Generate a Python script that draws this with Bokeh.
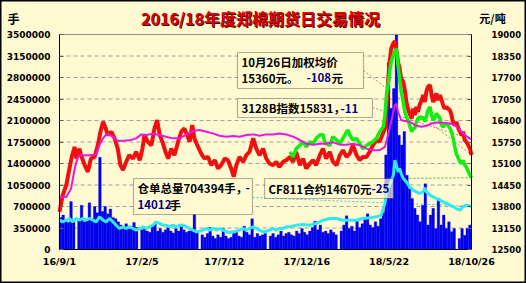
from datetime import date
from bokeh.plotting import figure
from bokeh.models import (Range1d, LinearAxis, FixedTicker, PrintfTickFormatter,
                          Label, BoxAnnotation, ColumnDataSource)
from bokeh.embed import file_html
from bokeh.resources import INLINE

# ---------------- data ----------------
START = date(2016, 9, 1)
x_tick_dates = [date(2016, 9, 1), date(2017, 2, 5), date(2017, 7, 12),
                date(2017, 12, 16), date(2018, 5, 22), date(2018, 10, 26)]
x_tick_labels = ["16/9/1", "17/2/5", "17/7/12", "17/12/16", "18/5/22", "18/10/26"]
vol_ticks = [0, 350000, 700000, 1050000, 1400000, 1750000, 2100000,
             2450000, 2800000, 3150000, 3500000]
price_ticks = [12500, 13150, 13800, 14450, 15100, 15750, 16400,
               17050, 17700, 18350, 19000]

# daily volume sampled every 5 calendar days (万手), holidays = 0
BAR_STEP = 5
vol_wan = [
    52, 56, 47, 44, 78, 46, 0,
    50, 72, 45, 48, 76, 50, 70,
    60, 150, 62, 70, 58, 66, 52, 50, 45,
    40, 36, 42, 34, 38, 44, 36,
    0,
    32, 36, 30, 28, 38, 42, 30, 34, 28, 32, 36, 30, 27, 34, 30, 38, 32, 28, 30, 33, 58, 30,
    0,
    24, 20, 26, 36, 22, 18, 24, 20, 34, 22, 18, 20, 26, 30, 22, 20, 38, 28, 24, 50, 20, 26, 22, 24, 26,
    0,
    22, 26, 20, 24, 30, 22, 26, 28, 24, 22, 30, 26, 34, 28, 24, 30, 36, 46, 32, 40, 28, 30, 26, 32, 28, 24,
    0,
    30, 40, 55, 34, 38, 30, 48, 36, 42, 52, 58, 40, 36, 45, 38, 50,
    60, 154, 305, 230, 262, 349, 186, 170, 192, 121, 99, 83, 67, 56, 45, 72, 107, 40, 56, 67,
    34, 83, 40, 56, 34, 45, 29, 34, 0, 18, 34, 23, 34, 40,
]

# weighted average price (day offset, 元/吨)
red = [(0,13640),(6,14140),(13,14450),(19,14950),(24,15350),(29,15600),(32,15250),(38,15550),(41,15350),(48,15050),(54,14850),(60,15250),(67,15300),(73,15650),(78,16060),(83,16360),(88,16160),(92,15960),(99,16060),(105,15860),(111,15550),(116,15050),(121,14900),(127,15150),(133,15350),(140,15250),(146,15450),(153,15200),(158,15550),(162,15960),(168,15760),(175,15650),(181,16160),(186,16410),(191,15960),(196,15760),(202,15450),(207,15250),(213,15550),(219,15350),(226,15760),(232,16060),(238,16160),(243,15960),(248,15760),(253,16260),(257,15860),(264,15600),(270,15400),(276,15250),(283,15300),(289,15050),(296,15200),(302,14950),(308,15050),(315,15250),(321,15200),(327,14950),(332,14700),(337,15050),(343,15300),(350,15150),(356,15350),(362,15450),(369,15860),(375,15550),(381,15350),(388,15550),(394,15250),(400,15100),(407,15050),(413,15150),(419,15000),(426,15150),(432,15200),(439,15300),(445,15150),(451,15450),(458,15050),(464,15250),(470,14950),(477,15100),(483,15200),(489,15050),(496,15350),(502,15550),(508,15250),(515,15450),(521,15150),(528,15050),(534,15350),(540,15500),(547,15300),(553,15400),(559,15650),(566,15350),(572,15200),(578,15300),(585,15300),(591,15450),(597,15650),(604,15810),(610,15760),(615,15960),(620,16160),(623,16760),(626,17570),(629,18170),(632,18580),(636,18730),(639,18800),(642,18480),(645,18170),(648,17970),(651,17670),(655,17570),(658,17320),(661,16960),(664,16760),(667,16610),(671,16460),(674,16760),(677,16560),(680,16810),(683,16660),(686,16860),(690,17020),(693,17170),(696,16960),(699,17270),(702,17420),(706,17470),(709,17170),(712,16960),(715,17070),(718,17220),(721,17020),(725,17170),(728,17020),(731,16860),(734,16760),(737,16810),(740,16760),(744,16710),(747,16560),(750,16310),(753,16260),(756,16360),(760,16160),(763,16060),(766,15960),(769,16060),(772,15810),(775,15760),(779,15650),(782,15550),(785,15360)]

# 3128B index
magenta = [(0,14090),(13,14090),(22,14340),(29,14950),(35,15300),(41,15350),(57,15350),(70,15370),(76,15650),(83,15860),(89,15980),(95,15960),(102,15910),(108,15810),(114,15780),(121,15790),(133,15800),(146,15860),(156,15980),(165,15960),(178,16000),(191,15960),(203,15910),(216,15860),(229,15860),(242,15980),(254,16080),(267,16110),(280,16060),(292,16010),(305,15940),(318,15910),(331,15930),(343,15910),(356,15960),(369,15980),(381,15940),(394,15980),(407,15980),(419,16010),(432,15980),(445,15910),(458,15810),(470,15700),(483,15670),(496,15700),(508,15700),(521,15740),(534,15670),(547,15670),(559,15700),(572,15650),(585,15550),(597,15500),(610,15500),(620,15600),(626,15960),(632,16360),(639,16860),(642,16910),(645,16660),(651,16410),(661,16380),(671,16330),(680,16240),(690,16210),(699,16240),(709,16310),(718,16340),(731,16330),(744,16310),(753,16260),(763,16110),(772,15960),(785,15831)]

# CF811 contract
green = [(439,15450),(445,15300),(451,15550),(458,15650),(464,15760),(470,15600),(477,15760),(483,15700),(489,15860),(496,15960),(502,15980),(505,15760),(508,15700),(515,15650),(521,15910),(528,15810),(534,15700),(540,15860),(547,16060),(550,16110),(553,15960),(559,15810),(566,15860),(572,15700),(578,15550),(585,15650),(591,15700),(597,15760),(604,15860),(610,16060),(617,16210),(620,16560),(623,17170),(626,17470),(629,17870),(632,18170),(636,18380),(639,18480),(642,18580),(645,18070),(648,17670),(651,17270),(655,16960),(658,16660),(661,16510),(664,16410),(667,16260),(671,16060),(674,16160),(677,16160),(680,16360),(683,16460),(686,16510),(690,16460),(693,16510),(696,16360),(699,16510),(702,16710),(706,16810),(709,16560),(712,16410),(715,16460),(718,16610),(721,16560),(725,16460),(728,16260),(731,16210),(734,16260),(737,16310),(740,16260),(744,16160),(747,16060),(750,15860),(753,15600),(756,15400),(760,15250),(763,15150),(766,15100),(769,15200),(772,15050),(775,15000),(779,14850),(782,14750),(785,14670)]

# warehouse receipts total (万手)
cyan = [(0,47.7),(6,45.0),(13,47.7),(19,50.5),(25,45.0),(32,50.5),(38,47.7),(44,50.5),(51,47.7),(57,50.5),(64,47.7),(70,45.0),(76,53.2),(83,47.7),(89,45.0),(95,50.5),(102,45.0),(108,39.6),(114,34.2),(121,36.9),(127,34.2),(133,36.9),(140,34.2),(146,31.5),(153,34.2),(159,36.9),(165,34.2),(172,36.9),(178,39.6),(184,45.0),(191,42.3),(197,39.6),(203,39.6),(210,36.9),(216,39.6),(222,36.9),(229,39.6),(235,39.6),(242,36.9),(248,34.2),(254,31.5),(261,28.8),(267,29.8),(273,31.5),(280,34.2),(286,31.5),(292,34.2),(299,31.5),(305,34.2),(311,31.5),(318,28.8),(324,27.7),(331,28.8),(337,29.8),(343,31.5),(350,34.2),(356,31.5),(362,34.2),(369,36.9),(375,34.2),(381,31.5),(388,28.8),(394,29.8),(400,31.5),(407,34.2),(413,31.5),(419,34.2),(426,34.2),(432,36.9),(439,36.9),(451,39.6),(464,40.7),(477,39.6),(489,42.3),(502,47.7),(515,50.5),(528,50.5),(540,47.7),(553,47.7),(566,47.7),(578,50.5),(591,51.5),(604,53.2),(613,55.9),(620,74.9),(623,93.9),(629,104.7),(636,121.0),(639,145.4),(642,137.3),(645,126.4),(648,131.9),(651,123.7),(655,115.6),(661,110.1),(667,102.0),(674,96.6),(680,93.9),(686,91.2),(693,93.9),(696,100.4),(699,93.9),(706,88.4),(712,85.7),(718,83.0),(725,80.3),(731,77.6),(737,74.9),(744,72.2),(750,69.5),(756,66.7),(763,64.0),(769,69.5),(775,72.2),(785,70.4394)]

title_text = "2016/18年度郑棉期货日交易情况"

# ---------------- layout helpers (pixel -> data) ----------------
W, H = 526, 283
FL, FR, FT, FB = 59, 471, 34, 249          # plot area inside the canvas
X_END = (x_tick_dates[-1] - START).days
V_MAX, P_MIN, P_MAX = vol_ticks[-1], price_ticks[0], price_ticks[-1]

def dx(px):
    return (px - FL) * X_END / (FR - FL)

def dy(py):
    return (FB - py) * V_MAX / (FB - FT)

def dp(py):
    return P_MIN + (FB - py) * (P_MAX - P_MIN) / (FB - FT)

BG = "#FFFAD2"
# the frame covers the whole canvas; axes sit at fixed locations around the plot area
p = figure(width=W, height=H, x_range=Range1d(dx(0), dx(W)), y_range=Range1d(dy(H), dy(0)),
           output_backend="svg", toolbar_location=None,
           min_border_left=0, min_border_right=0, min_border_top=0, min_border_bottom=0,
           background_fill_color=BG, border_fill_color=BG)
p.extra_y_ranges = {"price": Range1d(dp(H), dp(0))}
p.outline_line_color = "black"
p.outline_line_width = 2
p.xgrid.visible = False
p.ygrid.visible = False

TICK_FONT = "DejaVu Sans"
la = p.yaxis[0]
la.ticker = FixedTicker(ticks=vol_ticks)
la.formatter = PrintfTickFormatter(format="%d")
la.fixed_location = 0
la.bounds = (0, V_MAX)
ra = LinearAxis(y_range_name="price", ticker=FixedTicker(ticks=price_ticks),
                formatter=PrintfTickFormatter(format="%d"),
                fixed_location=X_END, bounds=(P_MIN, P_MAX))
p.add_layout(ra, "right")
for ax, fs, so in ((la, "9px", 9), (ra, "8.5px", 20)):
    ax.major_label_text_font = TICK_FONT
    ax.major_label_text_font_style = "bold"
    ax.major_label_text_font_size = fs
    ax.major_label_text_color = "black"
    ax.major_label_standoff = so
    ax.major_tick_in = 4
    ax.major_tick_out = 0
    ax.minor_tick_line_color = None
    ax.axis_line_color = "black"
    ax.major_tick_line_color = "#606060"

xa = p.xaxis[0]
tick_days = [(d - START).days for d in x_tick_dates]
xa.ticker = FixedTicker(ticks=tick_days)
xa.major_label_overrides = {t: s for t, s in zip(tick_days, x_tick_labels)}
xa.fixed_location = 0
xa.bounds = (0, X_END)
xa.major_label_text_font = TICK_FONT
xa.major_label_text_font_style = "bold"
xa.major_label_text_font_size = "9.5px"
xa.major_label_text_color = "black"
xa.major_label_standoff = 6
xa.major_tick_in = 0
xa.major_tick_out = 0
xa.minor_tick_line_color = None
xa.axis_line_color = "black"

# dashed horizontal grid at the left-axis ticks, grey top edge of the plot area
grid_y = vol_ticks[1:-1]
p.segment(x0=[0] * len(grid_y), y0=grid_y, x1=[X_END] * len(grid_y), y1=grid_y,
          line_color="#A0A0A0", line_dash="4 3", line_width=1)
p.segment(x0=[0], y0=[V_MAX], x1=[X_END], y1=[V_MAX], line_color="#909090", line_width=1)

# ---------------- leader lines (under everything) ----------------
red_d, red_p = zip(*red)
mag_d, mag_p = zip(*magenta)
grn_d, grn_p = zip(*green)
cy_d, cy_v = zip(*cyan)
cy_v = [v * 10000 for v in cy_v]

p.segment(x0=[dx(363), dx(372)], y0=[dp(70), dp(107)], x1=[red_d[-1], mag_d[-1]],
          y1=[red_p[-1], mag_p[-1]], y_range_name="price",
          line_color="#C88080", line_dash="2 2", line_width=1)
p.segment(x0=[dx(393)], y0=[dp(178)], x1=[grn_d[-1]], y1=[grn_p[-1]], y_range_name="price",
          line_color="#30C030", line_dash="2 2", line_width=1)
p.segment(x0=[dx(252)], y0=[dy(197)], x1=[cy_d[-1]], y1=[cy_v[-1]],
          line_color="#40C8D0", line_dash="2 2", line_width=1)

# ---------------- bars ----------------
bar_x = [BAR_STEP * i + 2 for i in range(len(vol_wan))]
bar_v = [min(v * 10000, V_MAX) for v in vol_wan]
src = ColumnDataSource(dict(x=bar_x, v=bar_v))
p.vbar(x="x", top="v", bottom=0, width=BAR_STEP, source=src,
       fill_color="#0000EE", line_color="#0000EE", line_width=0.3)

# ---------------- lines ----------------
p.line(list(cy_d), cy_v, line_color="#30E8F0", line_width=3)
p.line(list(red_d), list(red_p), y_range_name="price", line_color="#F01010", line_width=4)
p.line(list(grn_d), list(grn_p), y_range_name="price", line_color="#10F010", line_width=3.5)
p.line(list(mag_d), list(mag_p), y_range_name="price", line_color="#E818E0", line_width=2)

# ---------------- annotation boxes ----------------
def box(l, t, r, b, alpha=1.0):
    p.add_layout(BoxAnnotation(left=dx(l), right=dx(r), top=dy(t), bottom=dy(b),
                               fill_color=BG, fill_alpha=alpha,
                               line_color="black", line_width=1.2))

CJK = "Noto Sans CJK SC"

def txt(x, y, s, color="black", size="11.5px", align="left"):
    p.add_layout(Label(x=dx(x), y=dy(y), text=s, text_font=CJK,
                       text_font_size=size, text_font_style="bold",
                       text_color=color, text_align=align, text_baseline="middle"))

NAVY = "#000080"
box(237, 52, 363, 88)
txt(241, 61, "10月26日加权均价")
txt(241, 77, "15360元。")
txt(306, 77, "-108", NAVY)
txt(331, 77, "元")

box(237, 98, 372, 117)
txt(241, 107.5, "3128B指数15831，")
txt(340, 107.5, "-11", NAVY)

box(133, 178, 252, 214)
txt(137, 187, "仓单总量704394手，")
txt(245, 187, "-", NAVY)
txt(137, 204, "14012", NAVY)
txt(169, 204, "手")

box(264, 178, 393, 198, alpha=0.7)
txt(268, 188, "CF811合约14670元")
txt(371, 188, "-25", NAVY)

# ---------------- titles ----------------
txt(261, 18.5, title_text, color="#3A0000", size="16px", align="center")
txt(260, 17.5, title_text, color="#E00000", size="16px", align="center")
txt(13, 17.5, "手", size="12px", align="center")
txt(492, 17.5, "元/吨", size="11px", align="center")

open("out.html", "w").write(file_html(p, INLINE))
